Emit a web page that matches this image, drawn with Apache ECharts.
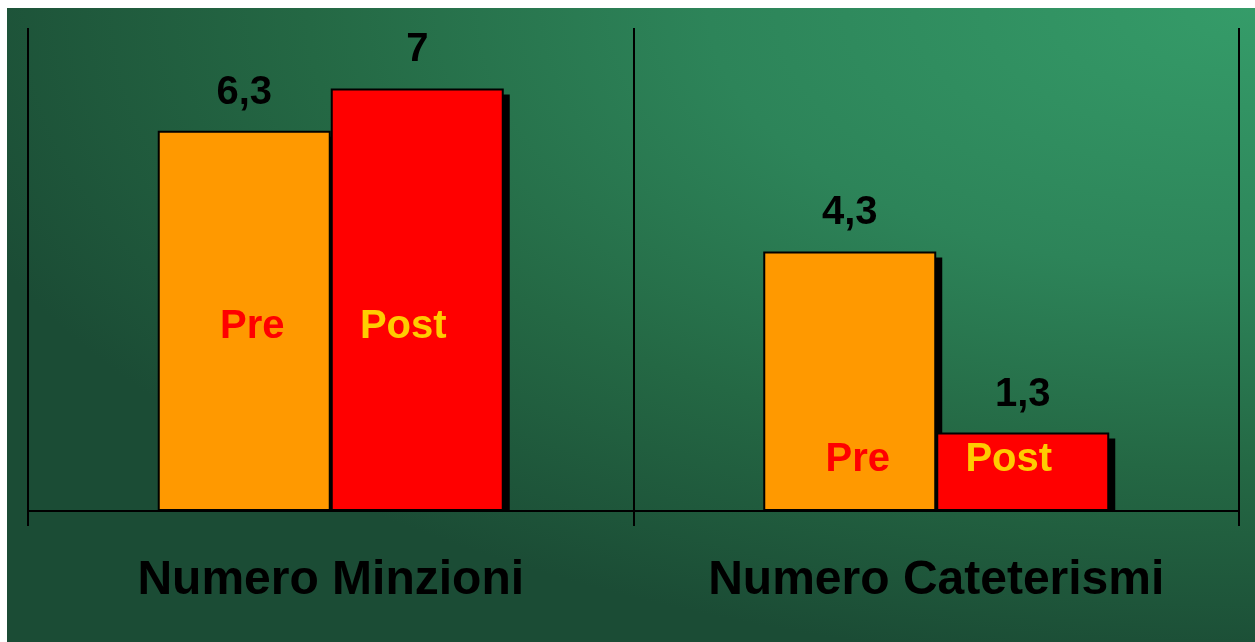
<!DOCTYPE html>
<html>
<head>
<meta charset="utf-8">
<script src="https://cdn.jsdelivr.net/npm/echarts@6/dist/echarts.min.js"></script>
<style>
html,body{margin:0;padding:0;background:#fff;}
#bg{position:absolute;left:7px;top:8px;width:1248px;height:634px;
background:radial-gradient(ellipse 115% 110% at 100% 0%, #359c69 0%, #2d8459 38%, #246844 66%, #1b4c35 95%);}
#chart{position:absolute;left:0;top:0;width:1255px;height:642px;}
</style>
</head>
<body>
<div id="bg"></div>
<div id="chart"></div>
<script>
const categories = ['Numero Minzioni', 'Numero Cateterismi'];
const preValues = [6.3, 4.3];
const postValues = [7, 1.3];
const preLabels = ['6,3', '4,3'];
const postLabels = ['7', '1,3'];
const seriesNames = ['Pre', 'Post'];
const tagHeights = [3.04, 0.84]; // data-level height of Pre/Post tags in each group

const chart = echarts.init(document.getElementById('chart'), null, {renderer: 'canvas'});
const font = 'Arial, "Liberation Sans", sans-serif';
const BAR_W = 173;
const SHADOW = 6;

// shadow data: [categoryIndex, value, side(-1 pre / +1 post)]
const shadowData = [];
categories.forEach((c, i) => {
  shadowData.push([i, preValues[i], -1]);
  shadowData.push([i, postValues[i], 1]);
});

function barSeries(name, values, labels, color, tagColor, tagOffset) {
  return {
    name: name,
    type: 'bar',
    data: values,
    barWidth: BAR_W,
    barGap: '0%',
    itemStyle: {
      color: color,
      borderColor: '#000',
      borderWidth: 2
    },
    label: {
      show: true,
      position: 'top',
      distance: 18,
      formatter: p => labels[p.dataIndex],
      color: '#000',
      fontFamily: font,
      fontWeight: 'bold',
      fontSize: 40
    },
    markPoint: {
      symbol: 'circle',
      symbolSize: 0,
      silent: true,
      data: categories.map((c, i) => ({coord: [i, tagHeights[i]], value: name})),
      label: {
        show: true,
        position: 'inside',
        offset: [tagOffset, 0],
        formatter: name,
        color: tagColor,
        fontFamily: font,
        fontWeight: 'bold',
        fontSize: 40
      }
    },
    z: 3
  };
}

chart.setOption({
  animation: false,
  backgroundColor: 'transparent',
  grid: {left: 28, right: 16, top: 28, bottom: 131, containLabel: false},
  xAxis: {
    type: 'category',
    data: categories,
    boundaryGap: true,
    axisLine: {show: true, lineStyle: {color: '#000', width: 2}},
    axisTick: {show: true, length: 15, lineStyle: {color: '#000', width: 2}},
    splitLine: {show: true, lineStyle: {color: '#000', width: 2}},
    axisLabel: {
      show: true,
      margin: 46,
      color: '#000',
      fontFamily: font,
      fontWeight: 'bold',
      fontSize: 48
    },
    z: 5
  },
  yAxis: {
    type: 'value',
    min: 0,
    max: 8,
    show: false,
    splitLine: {show: false}
  },
  series: [
    {
      type: 'custom',
      silent: true,
      z: 1,
      data: shadowData,
      renderItem: function (params, api) {
        const top = api.coord([api.value(0), api.value(1)]);
        const base = api.coord([api.value(0), 0]);
        const side = api.value(2);
        const x0 = side < 0 ? top[0] - BAR_W : top[0];
        return {
          type: 'rect',
          shape: {
            x: x0 + SHADOW,
            y: top[1] + SHADOW,
            width: BAR_W,
            height: Math.max(0, base[1] - top[1] - SHADOW)
          },
          style: {fill: '#000'}
        };
      }
    },
    barSeries(seriesNames[0], preValues, preLabels, '#ff9900', '#ff0000', 8),
    barSeries(seriesNames[1], postValues, postLabels, '#ff0000', '#ffcc00', -14)
  ]
});
</script>
</body>
</html>
